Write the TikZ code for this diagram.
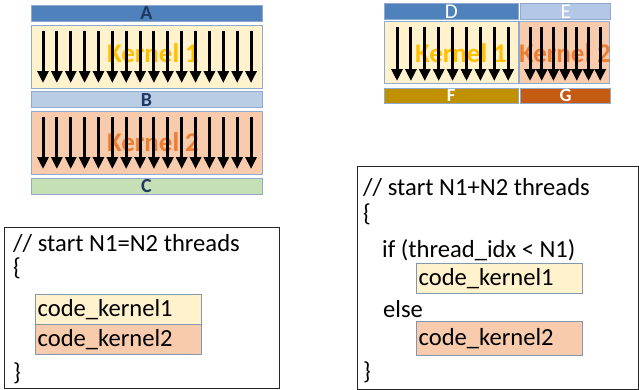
\documentclass[tikz,border=0pt]{standalone}
\usepackage{fontspec}
\setmainfont{Carlito}
\usetikzlibrary{arrows.meta, positioning}
\definecolor{mdblue}{HTML}{4F81BD}
\definecolor{mlblue}{HTML}{B9CDE5}
\definecolor{mcream}{HTML}{FFF2CC}
\definecolor{mpeach}{HTML}{F8CBAD}
\definecolor{mgreen}{HTML}{C5E0B4}
\definecolor{mpale}{HTML}{B4C7E7}
\definecolor{mgold}{HTML}{BF9000}
\definecolor{mrust}{HTML}{C55A11}
\definecolor{medge}{HTML}{8FAACC}
\definecolor{mbox}{HTML}{8497B0}
\definecolor{mnavy}{HTML}{1F3864}
\definecolor{myellow}{HTML}{FFC000}
\definecolor{morange}{HTML}{ED7D31}
\tikzstyle{bar} = [rectangle, draw=medge, minimum height=0.48cm, inner sep=0pt, font=\fontsize{17}{17}\selectfont\bfseries, text=mnavy]
\tikzstyle{kernel} = [rectangle, draw=medge, minimum height=1.89cm, inner sep=0pt]
\tikzstyle{klabel} = [inner sep=0pt, font=\fontsize{23}{23}\selectfont\bfseries]
\tikzstyle{thread} = [line width=0.09cm, -{Triangle[length=0.36cm, width=0.33cm]}]
\tikzstyle{listing} = [rectangle, draw=black!85, line width=0.8pt, inner sep=0pt, anchor=north west]
\tikzstyle{codeline} = [anchor=base west, inner sep=0pt, font=\fontsize{21}{21}\selectfont]
\tikzstyle{codebox} = [rectangle, draw=mbox, anchor=north west, inner xsep=2pt, inner ysep=0pt, minimum height=0.9cm, text width=4.97cm-4pt, align=left, font=\fontsize{21}{21}\selectfont]

\begin{document}
\begin{tikzpicture}[x=0.03cm, y=-0.03cm]
  \useasboundingbox (0,0) rectangle (639,390);
  % sequential kernels
  \node (A) [bar, fill=mdblue, minimum width=6.93cm] at (146.5,13) {A};
  \node (k1) [kernel, fill=mcream, minimum width=6.93cm, below=0.1cm of A] {};
  \node (B) [bar, fill=mlblue, minimum width=6.93cm, below=0.1cm of k1] {B};
  \node (k2) [kernel, fill=mpeach, minimum width=6.93cm, below=0.1cm of B] {};
  \node (C) [bar, fill=mgreen, minimum width=6.93cm, below=0.1cm of k2] {C};
  \node (t1) [klabel, text=myellow] at (153,53) {Kernel 1};
  \node (t2) [klabel, text=morange] at (153,142) {Kernel 2};
  \foreach \i in {0,...,15} {
    \draw [thread] ({43+13.87*\i},31) -- ({43+13.87*\i},83);
    \draw [thread] ({43+13.87*\i},117) -- ({43+13.87*\i},169);
  }
  % fused kernels
  \node (D) [bar, fill=mdblue, text=white, font=\fontsize{18}{18}\selectfont, minimum width=4.02cm, anchor=north west] at (384,3) {D};
  \node (E) [bar, fill=mpale, text=white, font=\fontsize{18}{18}\selectfont, minimum width=2.7cm, right=0.06cm of D] {E};
  \node (k3) [kernel, fill=mcream, minimum width=4.02cm, minimum height=1.86cm, below=0.06cm of D] {};
  \node (k4) [kernel, fill=mpeach, minimum width=2.7cm, minimum height=1.86cm, right=0.03cm of k3] {};
  \node (F) [bar, fill=mgold, text=white, font=\fontsize{16}{16}\selectfont\bfseries, minimum width=4.02cm, minimum height=0.45cm, below=0.12cm of k3] {F};
  \node (G) [bar, fill=mrust, text=white, font=\fontsize{16}{16}\selectfont\bfseries, minimum width=2.7cm, minimum height=0.45cm, right=0.06cm of F] {G};
  \node (t3) [klabel, text=myellow] at (461,53) {Kernel 1};
  \node (t4) [klabel, text=morange] at (565,53) {Kernel 2};
  \foreach \i in {0,...,8}
    \draw [thread] ({397+13.9*\i},27) -- ({397+13.9*\i},81);
  \foreach \i in {0,...,6}
    \draw [thread] ({530+11.7*\i},27) -- ({530+11.7*\i},81);
  % code for sequential kernels
  \node (prog1) [listing, minimum width=8.25cm, minimum height=4.83cm] at (4,227) {};
  \node (c1) [codeline] at (13,251) {// start N1=N2 threads};
  \node (c2) [codeline] at (13,275) {\{};
  \node (kc1) [codebox, fill=mcream] at (35,294) {code\_kernel1};
  \node (kc2) [codebox, fill=mpeach, below=0cm of kc1] {code\_kernel2};
  \node (c3) [codeline] at (13,380) {\}};
  % code for fused kernel
  \node (prog2) [listing, minimum width=8.43cm, minimum height=6.69cm] at (357,166) {};
  \node (d1) [codeline] at (363,195) {// start N1+N2 threads};
  \node (d2) [codeline] at (363,221) {\{};
  \node (d3) [codeline] at (382,257) {if (thread\_idx < N1)};
  \node (kd1) [codebox, fill=mcream] at (416,263) {code\_kernel1};
  \node (d4) [codeline] at (383,317) {else};
  \node (kd2) [codebox, fill=mpeach, minimum height=1.02cm] at (416,321) {code\_kernel2};
  \node (d5) [codeline] at (363,379) {\}};
\end{tikzpicture}
\end{document}
